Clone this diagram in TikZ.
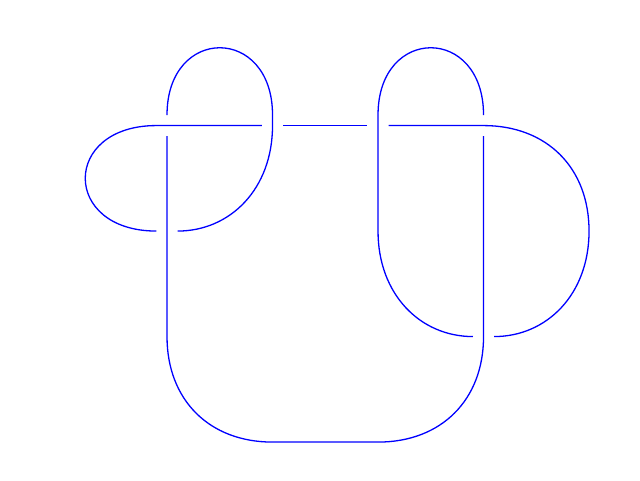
\documentclass[tikz,border=0pt]{standalone}
\begin{document}
\begin{tikzpicture}[strand/.style={draw=blue, line width=0.35pt}]
\useasboundingbox (-0.583,-0.360) rectangle (5.483,4.190);
\draw[strand] (0.9,2) .. controls (0,2) and (0,3) .. (0.9,3) -- (1.9,3);
\draw[strand] (2.1,3) -- (2.9,3);
\draw[strand] (3.1,3) -- (4,3) .. controls (4.6,3) and (5,2.6) .. (5,2) .. controls (5,1.4) and (4.6,1) .. (4.1,1);
\draw[strand] (3.9,1) .. controls (3.4,1) and (3,1.4) .. (3,2) -- (3,3.1) .. controls (3,3.95) and (4,3.95) .. (4,3.1);
\draw[strand] (4,2.9) -- (4,1) .. controls (4,0.4) and (3.6,0) .. (3,0) -- (2,0) .. controls (1.4,0) and (1,0.4) .. (1,1) -- (1,2.9);
\draw[strand] (1,3.1) .. controls (1,3.95) and (2,3.95) .. (2,3.1) -- (2,3) .. controls (2,2.4) and (1.6,2) .. (1.1,2);
\end{tikzpicture}
\end{document}
